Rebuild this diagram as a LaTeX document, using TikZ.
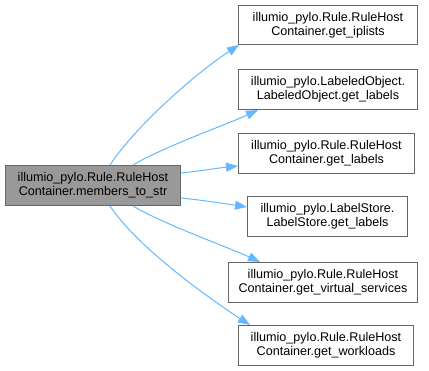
\documentclass[tikz,border=0pt]{standalone}
\usepackage{fontspec}
\setmainfont{Liberation Sans}
\usetikzlibrary{arrows.meta}
\definecolor{edgeblue}{HTML}{63B8FF}
\definecolor{boxline}{HTML}{666666}
\definecolor{srcfill}{HTML}{999999}
\tikzset{
  fn/.style={draw=boxline, fill=white, line width=1pt, align=center,
    font=\fontsize{12.6}{14}\selectfont, inner sep=0pt, anchor=north west,
    minimum height=40},
  srcfn/.style={fn, fill=srcfill},
  call/.style={draw=edgeblue, line width=1pt,
    -{Triangle[length=12pt,width=9pt]}}
}
\begin{document}
\begin{tikzpicture}[x=1pt,y=-1pt]
\useasboundingbox (0,0) rectangle (429,371);
\node[srcfn, minimum width=175] (src) at (5,165)
  {illumio\_pylo.Rule.RuleHost\\Container.members\_to\_str};
\node[fn, minimum width=179, minimum height=39] (n1) at (238,5)
  {illumio\_pylo.Rule.RuleHost\\Container.get\_iplists};
\node[fn, minimum width=179] (n2) at (238,69)
  {illumio\_pylo.LabeledObject.\\LabeledObject.get\_labels};
\node[fn, minimum width=176] (n3) at (238,133)
  {illumio\_pylo.Rule.RuleHost\\Container.get\_labels};
\node[fn, minimum width=160] (n4) at (247,196)
  {illumio\_pylo.LabelStore.\\LabelStore.get\_labels};
\node[fn, minimum width=189] (n5) at (228,262)
  {illumio\_pylo.Rule.RuleHost\\Container.get\_virtual\_services};
\node[fn, minimum width=175] (n6) at (238,325)
  {illumio\_pylo.Rule.RuleHost\\Container.get\_workloads};

\draw[call] ([xshift=105pt]src.north west) .. controls +(28,-42) and +(-40,26) .. ([xshift=1pt]n1.south west);
\draw[call] ([xshift=128pt]src.north west) .. controls +(30,-18) and +(-30,14) .. ([xshift=20pt]n2.south west);
\draw[call] ([yshift=-8pt]src.north east) .. controls +(20,-2) and +(-20,2) .. ([yshift=-33pt]n3.north west);
\draw[call] ([yshift=8pt]src.south east) .. controls +(20,2) and +(-20,-3) .. ([yshift=-11pt]n4.north west);
\draw[call] ([xshift=128pt]src.south west) .. controls +(30,18) and +(-30,-14) .. ([xshift=32pt]n5.north west);
\draw[call] ([xshift=105pt]src.south west) .. controls +(28,42) and +(-40,-26) .. ([xshift=12pt]n6.north west);
\end{tikzpicture}
\end{document}
